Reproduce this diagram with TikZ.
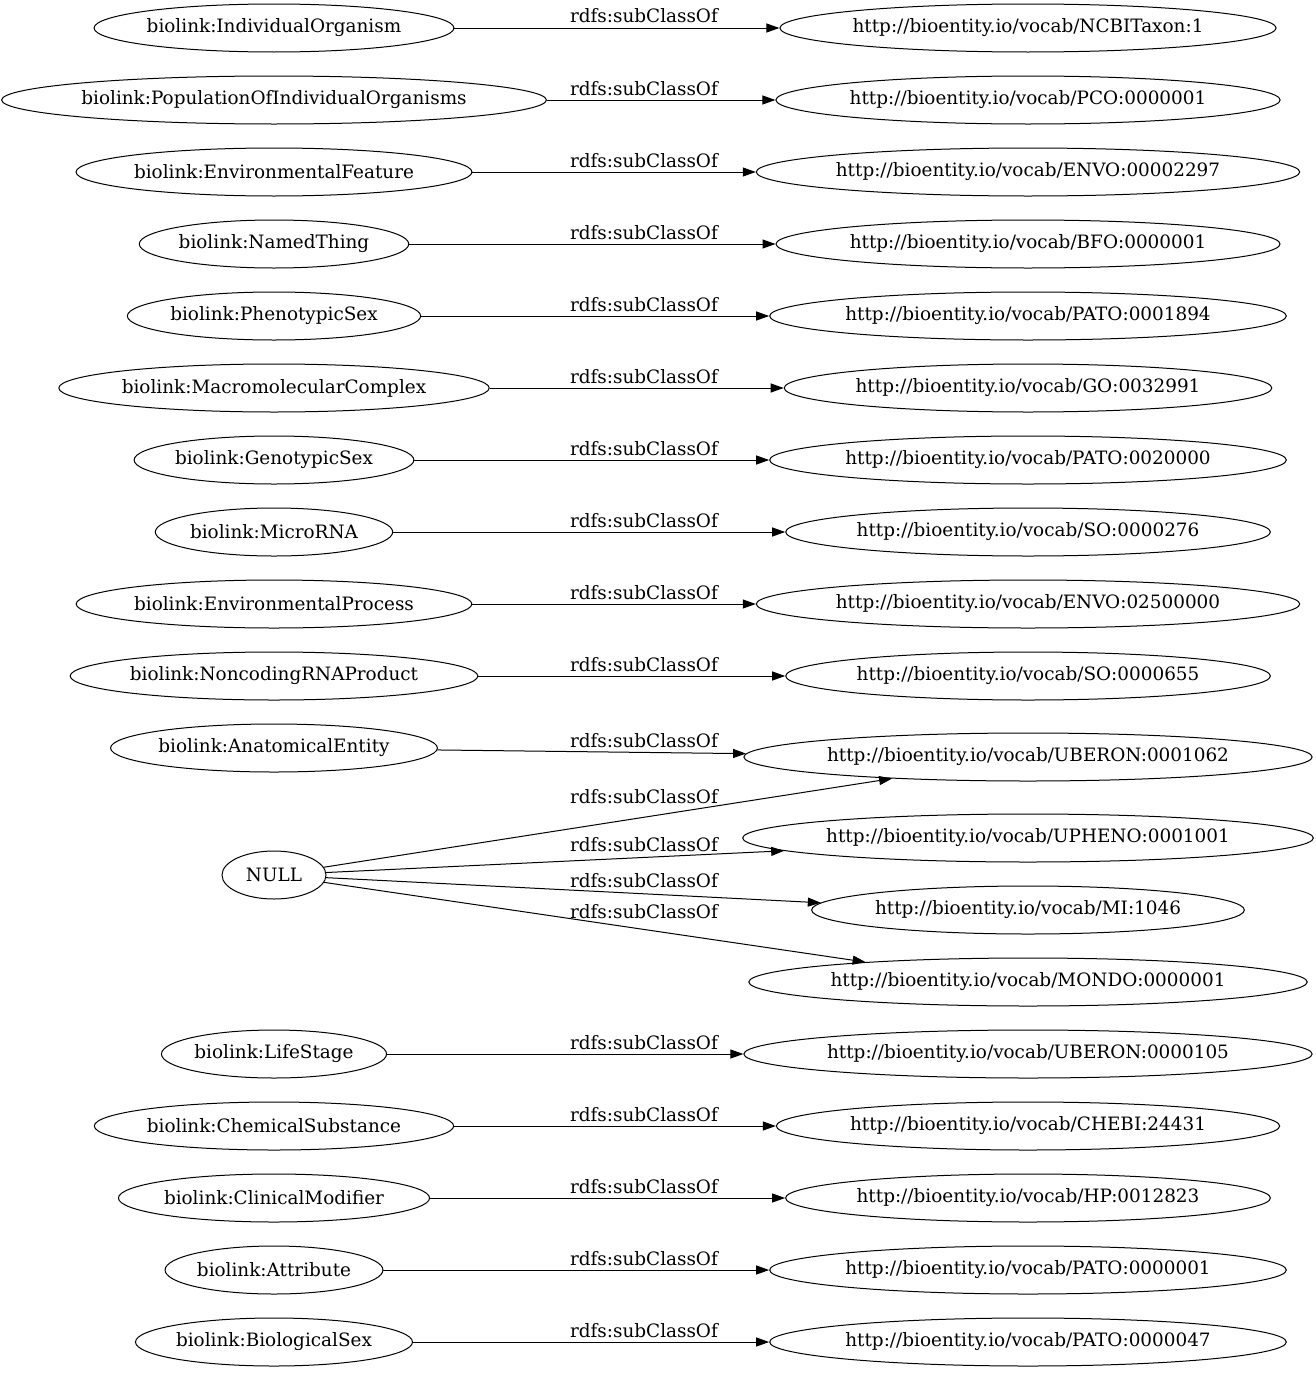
\documentclass[tikz,border=0pt]{standalone}
\usepackage{fontspec}
\setmainfont{DejaVu Serif}
\usetikzlibrary{arrows.meta,shapes.geometric}

\begin{document}
\begin{tikzpicture}[x=1pt,y=-1pt,every node/.style={font=\fontsize{18.4}{22}\selectfont},
  cls/.style={draw,ellipse,line width=1pt,minimum height=48pt,minimum width=104pt,inner xsep=0pt,inner ysep=0pt},
  sub/.style={-{Triangle[length=13pt,width=9pt]},line width=1pt},
  lbl/.style={anchor=base,inner sep=0pt}]
\useasboundingbox (0,0) rectangle (1316,1373);
% biolink classes
\node[cls] (indorg) at (274,28) {biolink:IndividualOrganism};
\node[cls] (popind) at (274,100) {biolink:PopulationOfIndividualOrganisms};
\node[cls] (envfeat) at (274,172) {biolink:EnvironmentalFeature};
\node[cls] (namedthing) at (274,244) {biolink:NamedThing};
\node[cls] (phensex) at (274,316) {biolink:PhenotypicSex};
\node[cls] (macrocomplex) at (274,388) {biolink:MacromolecularComplex};
\node[cls] (gensex) at (274,460) {biolink:GenotypicSex};
\node[cls] (microrna) at (274,532) {biolink:MicroRNA};
\node[cls] (envproc) at (274,604) {biolink:EnvironmentalProcess};
\node[cls] (ncrna) at (274,676) {biolink:NoncodingRNAProduct};
\node[cls] (anatent) at (274,748) {biolink:AnatomicalEntity};
\node[cls] (null) at (274,875) {NULL};
\node[cls] (lifestage) at (274,1054) {biolink:LifeStage};
\node[cls] (chemsub) at (274,1126) {biolink:ChemicalSubstance};
\node[cls] (clinmod) at (274,1198) {biolink:ClinicalModifier};
\node[cls] (attribute) at (274,1270) {biolink:Attribute};
\node[cls] (biosex) at (274,1342) {biolink:BiologicalSex};
% mapped vocab terms
\node[cls] (ncbitaxon) at (1028,28) {http://bioentity.io/vocab/NCBITaxon:1};
\node[cls] (pco) at (1028,100) {http://bioentity.io/vocab/PCO:0000001};
\node[cls] (envo2297) at (1028,172) {http://bioentity.io/vocab/ENVO:00002297};
\node[cls] (bfo) at (1028,244) {http://bioentity.io/vocab/BFO:0000001};
\node[cls] (pato1894) at (1028,316) {http://bioentity.io/vocab/PATO:0001894};
\node[cls] (go) at (1028,388) {http://bioentity.io/vocab/GO:0032991};
\node[cls] (pato20000) at (1028,460) {http://bioentity.io/vocab/PATO:0020000};
\node[cls] (so276) at (1028,532) {http://bioentity.io/vocab/SO:0000276};
\node[cls] (envo2500) at (1028,604) {http://bioentity.io/vocab/ENVO:02500000};
\node[cls] (so655) at (1028,676) {http://bioentity.io/vocab/SO:0000655};
\node[cls] (uberon1062) at (1028,757) {http://bioentity.io/vocab/UBERON:0001062};
\node[cls] (upheno) at (1028,838) {http://bioentity.io/vocab/UPHENO:0001001};
\node[cls] (mi) at (1028,910) {http://bioentity.io/vocab/MI:1046};
\node[cls] (mondo) at (1028,982) {http://bioentity.io/vocab/MONDO:0000001};
\node[cls] (uberon105) at (1028,1054) {http://bioentity.io/vocab/UBERON:0000105};
\node[cls] (chebi) at (1028,1126) {http://bioentity.io/vocab/CHEBI:24431};
\node[cls] (hp) at (1028,1198) {http://bioentity.io/vocab/HP:0012823};
\node[cls] (pato1) at (1028,1270) {http://bioentity.io/vocab/PATO:0000001};
\node[cls] (pato47) at (1028,1342) {http://bioentity.io/vocab/PATO:0000047};
% subclass edges
\draw[sub] (indorg) -- (ncbitaxon);
\draw[sub] (popind) -- (pco);
\draw[sub] (envfeat) -- (envo2297);
\draw[sub] (namedthing) -- (bfo);
\draw[sub] (phensex) -- (pato1894);
\draw[sub] (macrocomplex) -- (go);
\draw[sub] (gensex) -- (pato20000);
\draw[sub] (microrna) -- (so276);
\draw[sub] (envproc) -- (envo2500);
\draw[sub] (ncrna) -- (so655);
\draw[sub] (anatent) -- (uberon1062);
\draw[sub] (null) -- (uberon1062.189);
\draw[sub] (null) -- (upheno.183);
\draw[sub] (null) -- (mi.178);
\draw[sub] (null) -- (mondo.173);
\draw[sub] (lifestage) -- (uberon105);
\draw[sub] (chemsub) -- (chebi);
\draw[sub] (clinmod) -- (hp);
\draw[sub] (attribute) -- (pato1);
\draw[sub] (biosex) -- (pato47);
% edge labels
\node[lbl] (l1) at (644,23) {rdfs:subClassOf};
\node[lbl] (l2) at (644,95) {rdfs:subClassOf};
\node[lbl] (l3) at (644,167) {rdfs:subClassOf};
\node[lbl] (l4) at (644,239) {rdfs:subClassOf};
\node[lbl] (l5) at (644,311) {rdfs:subClassOf};
\node[lbl] (l6) at (644,383) {rdfs:subClassOf};
\node[lbl] (l7) at (644,455) {rdfs:subClassOf};
\node[lbl] (l8) at (644,527) {rdfs:subClassOf};
\node[lbl] (l9) at (644,599) {rdfs:subClassOf};
\node[lbl] (l10) at (644,671) {rdfs:subClassOf};
\node[lbl] (l11) at (644,747) {rdfs:subClassOf};
\node[lbl] (l12) at (644,803) {rdfs:subClassOf};
\node[lbl] (l13) at (644,851) {rdfs:subClassOf};
\node[lbl] (l14) at (644,887) {rdfs:subClassOf};
\node[lbl] (l15) at (644,918) {rdfs:subClassOf};
\node[lbl] (l16) at (644,1049) {rdfs:subClassOf};
\node[lbl] (l17) at (644,1121) {rdfs:subClassOf};
\node[lbl] (l18) at (644,1193) {rdfs:subClassOf};
\node[lbl] (l19) at (644,1265) {rdfs:subClassOf};
\node[lbl] (l20) at (644,1337) {rdfs:subClassOf};
\end{tikzpicture}
\end{document}
